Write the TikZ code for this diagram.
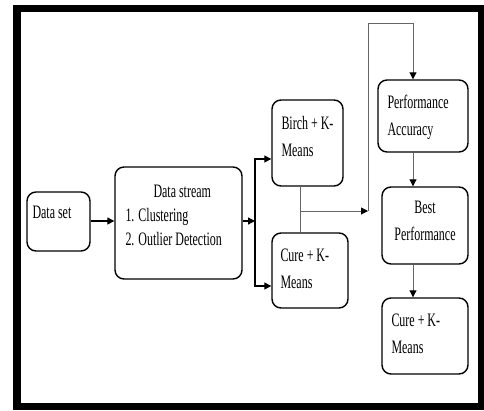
\documentclass[tikz,border=0pt]{standalone}
\usepackage{fontspec}
\setmainfont[FakeStretch=0.63]{Liberation Serif}
\usetikzlibrary{arrows.meta}
\newcommand{\boxfont}{\fontsize{19}{27}\selectfont}
\tikzset{
  blk/.style={draw, line width=1.4pt, rounded corners=9pt, inner sep=0pt},
  lbl/.style={anchor=north west, inner sep=0pt, align=left, font=\boxfont,
    execute at begin node={\rule{0pt}{14pt}}},
  conn/.style={draw=black!60, line width=1pt},
  tip/.style={-{Triangle[length=7pt,width=7pt,color=black]}}
}

\begin{document}
\begin{tikzpicture}[x=1pt,y=-1pt]
  \useasboundingbox (0,0) rectangle (484,410);
  % frame
  \draw[line width=7.5pt] (17,8.3) rectangle (481.5,406.5);
  % boxes
  \node[blk, minimum width=63pt, minimum height=59pt] (dset) at (58.5,221.5) {};
  \node[blk, minimum width=127pt, minimum height=112pt] (dstream) at (178.5,223) {};
  \node[blk, minimum width=71pt, minimum height=86pt] (birch) at (307.5,143) {};
  \node[blk, minimum width=76pt, minimum height=75pt] (cureA) at (310,270.5) {};
  \node[blk, minimum width=90pt, minimum height=72pt] (perf) at (423,116) {};
  \node[blk, minimum width=86pt, minimum height=77pt] (best) at (425,225.5) {};
  \node[blk, minimum width=86pt, minimum height=76pt] (cureB) at (425,336) {};
  % texts
  \node[lbl] (dsetT) at ([shift={(6,13)}]dset.north west) {Data set};
  \node[lbl, font=\fontsize{19}{24}\selectfont] (dstreamT) at ([shift={(11,18.5)}]dstream.north west)
    {\hspace*{28pt}Data stream\\1. Clustering\\2. Outlier Detection};
  \node[lbl] (birchT) at ([shift={(10,16.7)}]birch.north west) {Birch + K-\\Means};
  \node[lbl] (cureAT) at ([shift={(9,16.5)}]cureA.north west) {Cure + K-\\Means};
  \node[lbl] (perfT) at ([shift={(10,16)}]perf.north west) {Performance\\Accuracy};
  \node[lbl, anchor=north, align=center] (bestT) at ([shift={(0,15)}]best.north) {Best\\Performance};
  \node[lbl] (cureBT) at ([shift={(10,16)}]cureB.north west) {Cure + K-\\Means};
  % connectors
  \coordinate (split) at (255,221);
  \coordinate (merge) at (300,211);
  \coordinate (turn) at (368,211);
  \coordinate (col) at (413,23);
  \draw[line width=1.3pt, tip] (dset.east |- split) -- (dstream.west |- split);
  \draw[line width=1.3pt, tip] (dstream.east |- split) -- (split);
  \draw[line width=1.2pt, tip] (split) |- ([yshift=-16pt]birch.west);
  \draw[line width=1.2pt, tip] (split) |- ([yshift=-15.5pt]cureA.west);
  \draw[conn] (birch.south -| merge) -- (cureA.north -| merge);
  \draw[conn, tip] (merge) -- (turn);
  \draw[conn, tip] (turn) |- (col) -- (perf.north -| col);
  \draw[conn, tip] (perf.south -| col) -- (best.north -| col);
  \draw[conn, tip] (best.south -| col) -- (cureB.north -| col);
\end{tikzpicture}
\end{document}
